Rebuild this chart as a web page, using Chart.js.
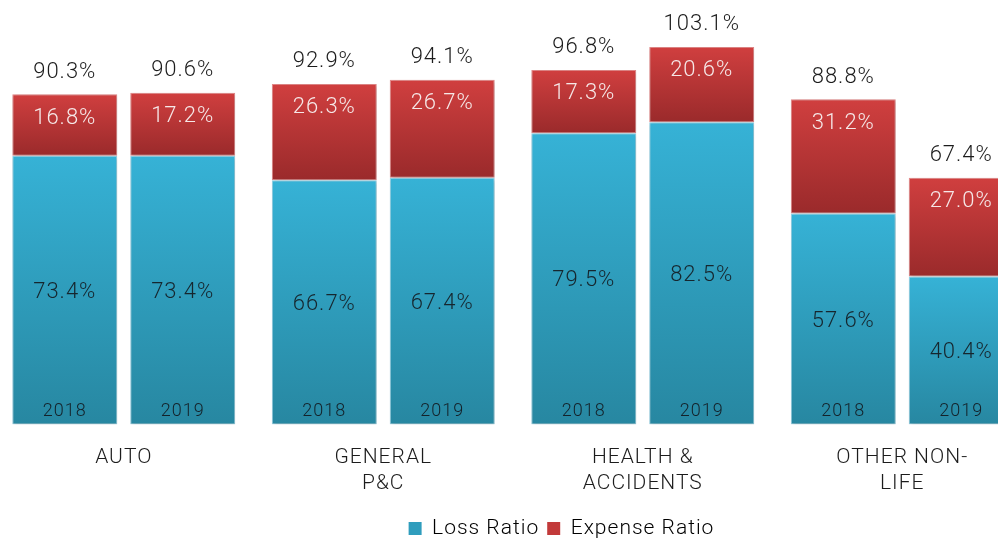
<!DOCTYPE html>
<html>
<head>
<meta charset="utf-8">
<script src="https://cdn.jsdelivr.net/npm/chart.js@4.4.0/dist/chart.umd.min.js"></script>
<style>
  html, body { margin: 0; padding: 0; background: #ffffff; overflow: hidden; width: 998px; height: 541px; }
  #wrap { position: absolute; left: -6px; top: 0; width: 1038px; height: 556px; }
</style>
</head>
<body>
<div id="wrap"><canvas id="c"></canvas></div>
<script>
const categories = [['AUTO'], ['GENERAL', 'P&C'], ['HEALTH &', 'ACCIDENTS'], ['OTHER NON-', 'LIFE']];
const years = ['2018', '2019'];
const loss2018 = [73.4, 66.7, 79.5, 57.6];
const expense2018 = [16.8, 26.3, 17.3, 31.2];
const loss2019 = [73.4, 67.4, 82.5, 40.4];
const expense2019 = [17.2, 26.7, 20.6, 27.0];
const total2018 = [90.3, 92.9, 96.8, 88.8];
const total2019 = [90.6, 94.1, 103.1, 67.4];

const FONT = 'Roboto';
const lossTop = '#36b2d6', lossBot = '#2787a1';
const expTop = '#d03f3f', expBot = '#9a2a2b';

function grad(ctx, kind) {
  const chart = ctx.chart;
  const ds = chart.data.datasets[ctx.datasetIndex];
  if (ctx.dataIndex === undefined || !chart.scales.y || !chart.chartArea) return kind === 'loss' ? lossTop : expTop;
  const y = chart.scales.y;
  const i = ctx.dataIndex;
  let lo, hi;
  if (kind === 'loss') { lo = 0; hi = ds.data[i]; }
  else { lo = ds._base[i]; hi = ds._base[i] + ds.data[i]; }
  const y0 = y.getPixelForValue(hi), y1 = y.getPixelForValue(lo);
  if (!isFinite(y0) || !isFinite(y1)) return kind === 'loss' ? lossTop : expTop;
  const g = chart.ctx.createLinearGradient(0, y0, 0, y1);
  if (kind === 'loss') { g.addColorStop(0, lossTop); g.addColorStop(1, lossBot); }
  else { g.addColorStop(0, expTop); g.addColorStop(1, expBot); }
  return g;
}

const datasets = [
  { label: 'Loss Ratio', data: loss2018, stack: '2018', kind: 'loss', year: years[0] },
  { label: 'Expense Ratio', data: expense2018, stack: '2018', kind: 'exp', _base: loss2018, total: total2018 },
  { label: 'Loss Ratio', data: loss2019, stack: '2019', kind: 'loss', year: years[1] },
  { label: 'Expense Ratio', data: expense2019, stack: '2019', kind: 'exp', _base: loss2019, total: total2019 }
].map(d => Object.assign(d, {
  backgroundColor: (ctx) => grad(ctx, d.kind),
  borderColor: d.kind === 'loss' ? 'rgba(120,200,225,0.8)' : 'rgba(225,110,110,0.8)',
  borderWidth: 1,
  borderSkipped: false,
  categoryPercentage: 0.909,
  barPercentage: 0.89
}));

const spacingPlugin = {
  id: 'letterSpacing',
  beforeDraw(chart) { chart.ctx.letterSpacing = '1px'; }
};

const labelsPlugin = {
  id: 'valueLabels',
  afterDatasetsDraw(chart) {
    const ctx = chart.ctx;
    ctx.save();
    ctx.letterSpacing = '1px';
    ctx.textAlign = 'center';
    ctx.textBaseline = 'middle';
    chart.data.datasets.forEach((ds, di) => {
      const meta = chart.getDatasetMeta(di);
      meta.data.forEach((bar, i) => {
        const v = ds.data[i];
        if (ds.kind === 'loss') {
          ctx.font = '300 22px ' + FONT;
          ctx.fillStyle = '#16262e';
          ctx.fillText(v.toFixed(1) + '%', bar.x, (bar.y + bar.base) / 2 + 2);
          ctx.font = '300 18px ' + FONT;
          ctx.fillStyle = '#14222a';
          ctx.fillText(ds.year, bar.x, bar.base - 13);
        } else {
          ctx.font = '300 22px ' + FONT;
          ctx.fillStyle = '#f6e8e8';
          ctx.fillText(v.toFixed(1) + '%', bar.x, bar.y + 24);
          ctx.fillStyle = '#1c1c1c';
          ctx.fillText(ds.total[i].toFixed(1) + '%', bar.x, bar.y - 22);
        }
      });
    });
    ctx.restore();
  }
};

const shadowPlugin = {
  id: 'barShadow',
  beforeDatasetsDraw(chart) {
    const c = chart.ctx;
    c.save();
    c.shadowColor = 'rgba(0,0,0,0.22)';
    c.shadowBlur = 4;
    c.shadowOffsetX = 1;
    c.shadowOffsetY = 1;
  },
  afterDatasetsDraw(chart) { chart.ctx.restore(); }
};

const legendShift = {
  id: 'legendShift',
  afterLayout(chart) {
    const lg = chart.legend;
    if (lg) { lg.left += 37; lg.right += 37; lg.top -= 7; lg.bottom -= 7; }
  }
};

new Chart(document.getElementById('c'), {
  type: 'bar',
  data: { labels: categories, datasets },
  plugins: [spacingPlugin, shadowPlugin, labelsPlugin, legendShift],
  options: {
    responsive: true,
    maintainAspectRatio: false,
    animation: false,
    layout: { padding: { top: 0, left: 0, right: 0, bottom: 0 } },
    scales: {
      x: {
        stacked: true,
        grid: { display: false, drawTicks: false },
        border: { display: false },
        ticks: { padding: 21, color: '#1c1c1c', font: { family: FONT, size: 21, weight: '300', lineHeight: 1.2 } }
      },
      y: {
        stacked: true,
        display: false,
        min: 0,
        max: 115.9
      }
    },
    plugins: {
      tooltip: { enabled: false },
      legend: {
        position: 'bottom',
        labels: {
          boxWidth: 13,
          boxHeight: 13,
          padding: 8,
          color: '#1c1c1c',
          font: { family: FONT, size: 21, weight: '300' },
          generateLabels: () => [
            { text: 'Loss Ratio', fillStyle: '#2f9dbd', strokeStyle: '#2f9dbd', lineWidth: 0, datasetIndex: 0 },
            { text: 'Expense Ratio', fillStyle: '#c23a3a', strokeStyle: '#c23a3a', lineWidth: 0, datasetIndex: 1 }
          ]
        }
      }
    }
  }
});
</script>
</body>
</html>
